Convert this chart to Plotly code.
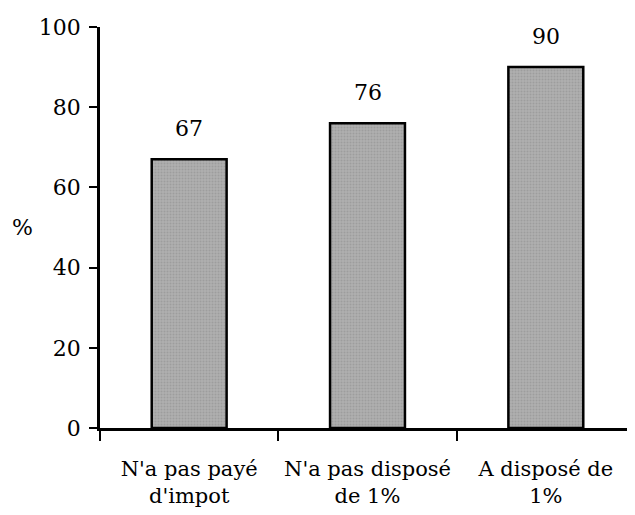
import plotly.graph_objects as go

categories = ["N'a pas payé<br>d'impot", "N'a pas disposé<br>de 1%", "A disposé de<br>1%"]
values = [67, 76, 90]
y_ticks = [0, 20, 40, 60, 80, 100]

FONT = "DejaVu Serif"

fig = go.Figure()
fig.add_trace(go.Bar(
    x=categories, y=values,
    marker=dict(color="#a3a3a3", line=dict(color="black", width=2.5),
                pattern=dict(shape=".", fgcolor="#8a8a8a", bgcolor="#b0b0b0", size=3, solidity=0.4)),
    width=0.42,
))
for c, v in zip(categories, values):
    fig.add_annotation(x=c, y=v, text=str(v), showarrow=False, yanchor="bottom",
                       yshift=16, font=dict(family=FONT, size=22, color="black"))
fig.add_annotation(x=-0.145, xref="paper", xanchor="center", y=50, yref="y",
                   text="%", showarrow=False, font=dict(family=FONT, size=22, color="black"))

fig.update_layout(
    width=627, height=507,
    margin=dict(l=92, r=0, t=19, b=87, autoexpand=False),
    paper_bgcolor="white", plot_bgcolor="white",
    showlegend=False,
    font=dict(family=FONT, size=21, color="black"),
    xaxis=dict(type="category", tickson="boundaries", ticks="outside", ticklen=10,
               tickwidth=2, tickcolor="black", showline=True, linecolor="black",
               linewidth=2.5, showgrid=False, range=[-0.5, 2.5], automargin=False,
               ticklabelstandoff=20,
               tickfont=dict(family=FONT, size=21, color="black")),
    yaxis=dict(range=[0, 100], tickvals=y_ticks, ticks="outside", ticklen=8,
               tickwidth=2, tickcolor="black", showline=True, linecolor="black",
               linewidth=2.5, showgrid=False, zeroline=False, automargin=False,
               ticklabelstandoff=4,
               tickfont=dict(family=FONT, size=22, color="black")),
)
fig.write_html("out.html")
